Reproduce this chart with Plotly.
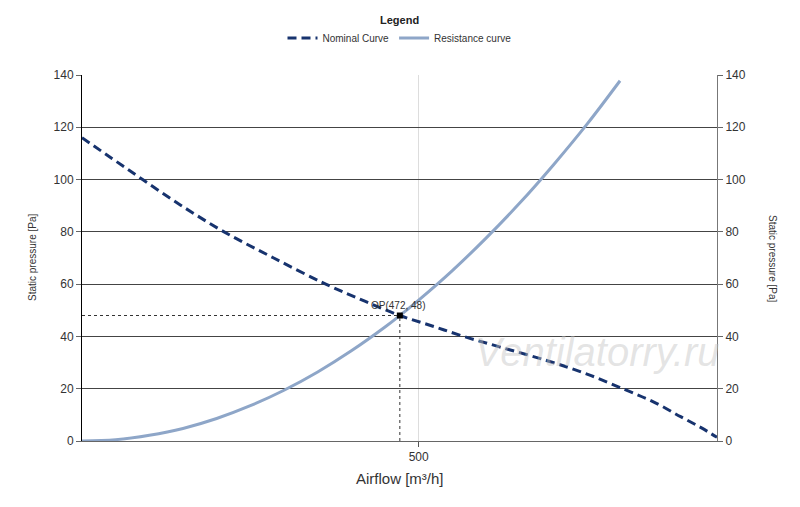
import plotly.graph_objects as go

# Nominal fan curve (airflow m³/h -> static pressure Pa)
nominal_airflow = [0, 45, 90, 146, 211, 284, 362, 420, 472, 520, 567, 620, 691, 750, 805, 850, 889, 920, 943]
nominal_pressure = [116, 108, 100, 90.3, 80, 70.1, 60, 53.5, 48, 44, 40, 36, 30.7, 25.6, 19.8, 14.8, 9.3, 5.0, 1.4]

# System resistance curve
resist_airflow = [0, 50, 100, 150, 200, 250, 300, 350, 400, 450, 472, 500, 550, 600, 650, 700, 750, 799]
resist_pressure = [0, 0.5, 2.2, 4.8, 8.6, 13.5, 19.4, 26.4, 34.5, 43.6, 48, 53.9, 65.2, 77.6, 91, 105.6, 121.2, 137.8]

# Operating point
op_x = 472
op_y = 48

x_range = [0, 943]
y_range = [0, 140]
y_ticks = [0, 20, 40, 60, 80, 100, 120, 140]
x_ticks = [500]

FONT = "Liberation Sans, Arial, sans-serif"
ML, MR, MT, MB = 82, 83, 75, 66
W, H = 800, 507
pw = W - ML - MR
ph = H - MT - MB


def px_x(p):
    return (p - ML) / pw


def px_y(p):
    return (H - MB - p) / ph


fig = go.Figure()

fig.add_trace(go.Scatter(
    x=resist_airflow, y=resist_pressure, mode="lines",
    name="Resistance curve", line=dict(color="#8ea6c8", width=3, shape="spline"),
))
fig.add_trace(go.Scatter(
    x=nominal_airflow, y=nominal_pressure, mode="lines",
    name="Nominal Curve", line=dict(color="#17336e", width=3, dash="9px,5px", shape="spline"),
))
# operating point marker
fig.add_trace(go.Scatter(
    x=[op_x], y=[op_y], mode="markers", showlegend=False,
    marker=dict(symbol="square", size=6, color="black"), hoverinfo="skip",
))
# invisible trace to carry the right axis
fig.add_trace(go.Scatter(
    x=[0], y=[0], yaxis="y2", mode="lines", opacity=0, showlegend=False, hoverinfo="skip",
))

# dotted guides to the operating point
fig.add_shape(type="line", x0=0, x1=op_x, y0=op_y, y1=op_y, xref="x", yref="y",
              line=dict(color="#333333", width=1, dash="dot"))
fig.add_shape(type="line", x0=op_x, x1=op_x, y0=0, y1=op_y, xref="x", yref="y",
              line=dict(color="#333333", width=1, dash="dot"))

fig.update_layout(
    width=W, height=H,
    margin=dict(l=ML, r=MR, t=MT, b=MB, autoexpand=False),
    paper_bgcolor="white", plot_bgcolor="white",
    font=dict(family=FONT, size=12, color="#333333"),
    legend=dict(orientation="h", x=0.5, xanchor="center",
                y=px_y(38), yanchor="middle",
                font=dict(size=10, color="#333333"), traceorder="reversed",
                itemwidth=30, bgcolor="rgba(0,0,0,0)"),
    xaxis=dict(range=x_range, tickvals=x_ticks, ticks="outside", ticklen=5, tickcolor="#555555",
               showline=True, linecolor="#666666", linewidth=1, automargin=False,
               showgrid=True, gridcolor="#dddddd", gridwidth=1, zeroline=False,
               tickfont=dict(size=12, color="#333333")),
    yaxis=dict(range=y_range, tickvals=y_ticks, ticks="outside", ticklen=5, tickcolor="#666666",
               showline=True, linecolor="black", linewidth=1, automargin=False,
               showgrid=True, gridcolor="#444444", gridwidth=1, zeroline=False,
               tickfont=dict(size=12, color="#333333")),
    yaxis2=dict(range=y_range, tickvals=y_ticks, overlaying="y", side="right",
                ticks="outside", ticklen=5, tickcolor="#666666", automargin=False,
                showline=True, linecolor="#777777", linewidth=1,
                showgrid=False, zeroline=False, tickfont=dict(size=12, color="#333333")),
)

fig.add_annotation(text="<b>Legend</b>", x=0.5, y=px_y(20), xref="paper", yref="paper",
                   xanchor="center", yanchor="middle", showarrow=False,
                   font=dict(size=11, color="#222222"))
fig.add_annotation(text="Static pressure [Pa]", x=px_x(32), y=0.5, xref="paper", yref="paper",
                   xanchor="center", yanchor="middle", showarrow=False, textangle=-90,
                   font=dict(size=10, color="#333333"))
fig.add_annotation(text="Static pressure [Pa]", x=px_x(773), y=0.5, xref="paper", yref="paper",
                   xanchor="center", yanchor="middle", showarrow=False, textangle=90,
                   font=dict(size=10, color="#333333"))
fig.add_annotation(text="Airflow [m³/h]", x=0.5, y=px_y(478), xref="paper", yref="paper",
                   xanchor="center", yanchor="middle", showarrow=False,
                   font=dict(size=15, color="#333333"))
fig.add_annotation(text="OP(472, 48)", x=op_x - 2, y=op_y + 4, xref="x", yref="y",
                   xanchor="center", yanchor="middle", showarrow=False,
                   font=dict(size=10, color="#333333"))
fig.add_annotation(text="<i>Ventilatorry.ru</i>", x=px_x(597), y=px_y(352), xref="paper", yref="paper",
                   xanchor="center", yanchor="middle", showarrow=False,
                   font=dict(size=40, color="rgba(195,195,195,0.45)", family=FONT))

fig.write_html("out.html", config={"displayModeBar": False},
               post_script="document.body.style.margin='0';")
